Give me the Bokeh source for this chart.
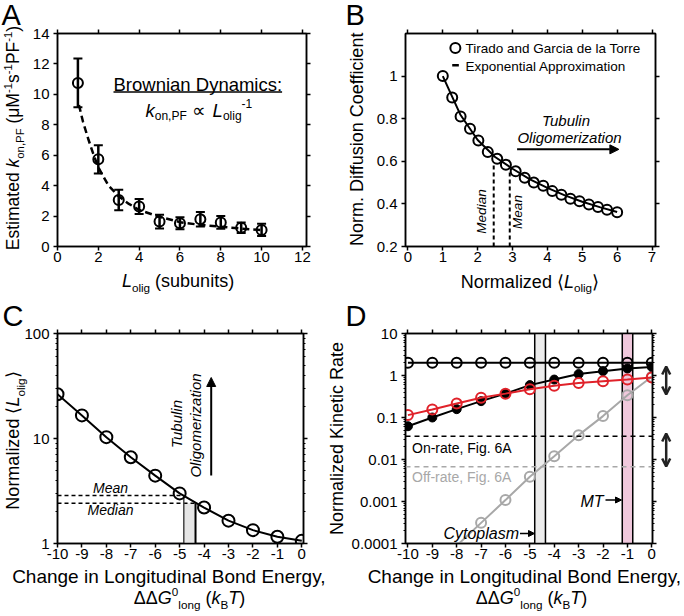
import math
from bokeh.plotting import figure
from bokeh.models import (Range1d, LinearAxis, LogAxis, Label, Arrow, NormalHead, OpenHead,
                          TeeHead, Whisker, ColumnDataSource, SingleIntervalTicker,
                          CustomJSTickFormatter, LogTicker, Span, GridBox)
from bokeh.layouts import row, column
from bokeh.embed import file_html
from bokeh.resources import INLINE

FONT = "Liberation Sans"

# ---------------- data ----------------
# Panel A
a_lolig = [1, 2, 3, 4, 5, 6, 7, 8, 9, 10]
a_kon = [10.75, 5.73, 3.06, 2.63, 1.64, 1.53, 1.79, 1.58, 1.23, 1.09]
a_err = [1.6, 0.93, 0.67, 0.5, 0.45, 0.4, 0.47, 0.42, 0.35, 0.4]
a_fit_x = [1.05, 1.25, 1.5, 1.75, 2.0, 2.5, 3.0, 3.5, 4.0, 5.0, 6.0, 7.0, 8.0, 9.0, 10.0]
a_fit_y = [9.3, 8.2, 7.1, 6.1, 5.2, 4.0, 3.3, 2.8, 2.4, 1.95, 1.6, 1.42, 1.3, 1.18, 1.08]

# Panel B
b_x = [1.00, 1.27, 1.51, 1.78, 2.02, 2.29, 2.56, 2.81, 3.09, 3.35,
       3.61, 3.88, 4.14, 4.40, 4.66, 4.92, 5.19, 5.45, 5.71, 6.00]
b_y = [1.0, 0.90, 0.81, 0.753, 0.698, 0.644, 0.612, 0.584, 0.553, 0.523,
       0.50, 0.485, 0.46, 0.443, 0.424, 0.412, 0.397, 0.385, 0.372, 0.361]
b_fit_x = [1.0, 1.5, 2.0, 2.5, 3.0, 3.5, 4.0, 4.5, 5.0, 5.5, 6.0]
b_fit_y = [1.0, 0.82, 0.70, 0.62, 0.565, 0.515, 0.475, 0.44, 0.41, 0.385, 0.362]
b_stats_x = [2.46, 2.92]        # median, mean
b_stats_top = [0.589, 0.549]

# Panel C
c_dg = [-10, -9, -8, -7, -6, -5, -4, -3, -2, -1, 0]
c_lolig = [26.4, 16.6, 10.3, 6.63, 4.43, 3.0, 2.2, 1.65, 1.34, 1.16, 1.06]
c_mean, c_median = 2.87, 2.42
c_band = [-4.83, -4.35]

# Panel D
d_dg = [-10, -9, -8, -7, -6, -5, -4, -3, -2, -1, 0]
d_black_open = [2.0, 2.0, 2.0, 2.0, 2.0, 2.0, 2.0, 2.0, 2.0, 2.0, 2.0]
d_black_filled = [0.062, 0.10, 0.158, 0.245, 0.37, 0.59, 0.80, 1.08, 1.27, 1.47, 1.6]
d_red = [0.114, 0.155, 0.215, 0.295, 0.37, 0.47, 0.57, 0.66, 0.73, 0.80, 0.90]
d_gray_x = [-8, -7, -6, -5, -4, -3, -2, -1, 0]
d_gray = [0.000089, 0.00031, 0.00108, 0.0039, 0.012, 0.038, 0.108, 0.34, 0.93]
d_on_rate, d_off_rate = 0.036, 0.0067
d_cyto_band = [-4.80, -4.36]
d_mt_band = [-1.21, -0.78]

RED = "#e0222a"
GRAY = "#a8a8a8"

# ---------------- text helpers (overlay in page pixels, y down) ----------------
W = {' ': 278, '(': 333, ')': 333, ',': 278, '-': 333, '.': 278, ':': 278,
     'A': 667, 'B': 667, 'C': 722, 'D': 722, 'E': 667, 'F': 611, 'G': 778, 'H': 722,
     'I': 278, 'K': 667, 'L': 556, 'M': 833, 'N': 722, 'O': 778, 'P': 667, 'R': 722,
     'S': 667, 'T': 611,
     'a': 556, 'b': 556, 'c': 500, 'd': 556, 'e': 556, 'f': 278, 'g': 556, 'h': 556,
     'i': 222, 'j': 222, 'k': 500, 'l': 222, 'm': 833, 'n': 556, 'o': 556, 'p': 556,
     'q': 556, 'r': 333, 's': 500, 't': 278, 'u': 556, 'v': 500, 'w': 722, 'x': 500,
     'y': 500, 'z': 500, 'μ': 576, 'Δ': 668, '⟨': 390, '⟩': 390, '∝': 838}
BASE_FIX = 0.28       # horizontal text: rendered baseline sits this many ems low
BASE_FIX_ROT = 0.56   # rotated text: rendered baseline sits this many ems to the right


def tw(s, size):
    return sum(W.get(c, 556) for c in s) * size / 1000.0


ov = figure(width=684, height=616, x_range=Range1d(0, 684), y_range=Range1d(616, 0),
            x_axis_location=None, y_axis_location=None, output_backend="svg",
            toolbar_location=None, min_border_left=0, min_border_right=0,
            min_border_top=0, min_border_bottom=0)
ov.outline_line_color = None
ov.background_fill_alpha = 0
ov.border_fill_alpha = 0
ov.xgrid.visible = False
ov.ygrid.visible = False


def rich(pieces, x, y, size, angle=0.0, align="center", color="black"):
    """Lay out text pieces at page pixel (x, y) = baseline anchor."""
    items = []
    for t, k in pieces:
        s = size * 0.65 if k in ("sub", "sup") else size
        items.append((t, k, s, tw(t, s)))
    total = sum(it[3] for it in items)
    pos = {"left": 0.0, "center": -total / 2.0, "right": -total}[align]
    for t, k, s, w in items:
        off = -0.22 * size if k == "sub" else (0.45 * size if k == "sup" else 0.0)
        off += (BASE_FIX_ROT if angle else BASE_FIX) * s
        stripped = t.lstrip()
        lead = tw(t[:len(t) - len(stripped)], s)
        stripped = stripped.rstrip()
        if stripped:
            if angle:
                lx, ly = x - off, y - (pos + lead)
            else:
                lx, ly = x + pos + lead, y - off
            ov.add_layout(Label(x=lx, y=ly, text=stripped, angle=angle, text_font=FONT,
                                text_font_size=f"{s:.1f}px",
                                text_font_style="italic" if k == "i" else "normal",
                                text_color=color, text_align="left",
                                text_baseline="alphabetic"))
        pos += w


def ov_arrow(x0, y0, x1, y1, size=8, width=2.0, both=False, open_head=False):
    def head():
        if open_head:
            return OpenHead(size=size, line_width=width, line_color="#222222")
        return NormalHead(size=size, fill_color="black", line_color="black", line_width=1)
    ov.add_layout(Arrow(x_start=x0, y_start=y0, x_end=x1, y_end=y1, line_width=width,
                        line_color="#222222" if open_head else "black",
                        start=head() if both else None, end=head()))


# ---------------- axes helpers ----------------
EMPTY = "return '';"


def style_axis(ax, labels=True, minor=False, standoff=4):
    ax.axis_line_width = 1.5
    ax.axis_line_color = "black"
    ax.major_tick_line_width = 1.5
    ax.major_tick_line_color = "black"
    ax.major_tick_out = 4
    ax.major_tick_in = 0
    ax.minor_tick_out = 2 if minor else 0
    ax.minor_tick_in = 0
    ax.minor_tick_line_width = 1
    ax.minor_tick_line_color = "black" if minor else None
    ax.major_label_text_font = FONT
    ax.major_label_text_color = "black"
    ax.major_label_text_font_size = "15px"
    ax.major_label_standoff = standoff if labels else 0
    if not labels:
        ax.formatter = CustomJSTickFormatter(code=EMPTY)


def make_fig(w, h, xr, yr, left, right, top, bottom, ylog=False):
    p = figure(width=w, height=h, x_range=xr, y_range=yr,
               y_axis_type="log" if ylog else "linear",
               output_backend="svg", toolbar_location=None,
               min_border_left=left, min_border_right=right,
               min_border_top=top, min_border_bottom=bottom)
    p.xgrid.visible = False
    p.ygrid.visible = False
    p.outline_line_color = "black"
    p.outline_line_width = 1.5
    p.background_fill_color = "white"
    p.border_fill_color = "white"
    return p


def add_axes(p, xint, yint=None, ylog=False, xformatter=None, yformatter=None):
    p.xaxis.ticker = SingleIntervalTicker(interval=xint, num_minor_ticks=0)
    style_axis(p.xaxis[0], standoff=1)
    if xformatter is not None:
        p.xaxis[0].formatter = xformatter
    top = LinearAxis(ticker=SingleIntervalTicker(interval=xint, num_minor_ticks=0))
    style_axis(top, labels=False)
    p.add_layout(top, "above")
    if ylog:
        p.yaxis.ticker = LogTicker(num_minor_ticks=10)
        style_axis(p.yaxis[0], minor=True)
        right = LogAxis(ticker=LogTicker(num_minor_ticks=10))
        style_axis(right, labels=False, minor=True)
    else:
        p.yaxis.ticker = SingleIntervalTicker(interval=yint, num_minor_ticks=0)
        style_axis(p.yaxis[0])
        right = LinearAxis(ticker=SingleIntervalTicker(interval=yint, num_minor_ticks=0))
        style_axis(right, labels=False)
    if yformatter is not None:
        p.yaxis[0].formatter = yformatter
    p.add_layout(right, "right")


PI2 = math.pi / 2
PLAIN = CustomJSTickFormatter(code="return tick.toString();")

# ---------------- Panel A ----------------
pA = make_fig(342, 300, Range1d(0, 12.2), Range1d(0, 14), 57, 36, 33, 53)
add_axes(pA, 2, 2)
pA.line(a_fit_x, a_fit_y, line_dash="7 4", line_width=2.5, line_color="black")
srcA = ColumnDataSource(dict(x=a_lolig,
                             upper=[v + e for v, e in zip(a_kon, a_err)],
                             lower=[v - e for v, e in zip(a_kon, a_err)]))
pA.add_layout(Whisker(source=srcA, base="x", upper="upper", lower="lower",
                      line_width=2.5, line_color="black",
                      upper_head=TeeHead(size=9, line_width=2, line_color="black"),
                      lower_head=TeeHead(size=9, line_width=2, line_color="black")))
pA.scatter(a_lolig, a_kon, marker="circle", size=10, line_width=2,
           line_color="black", fill_color=None)

rich([("A", "n")], 1, 23, 29, align="left")
rich([("Estimated ", "n"), ("k", "i"), ("on,PF", "sub"), (" (μM", "n"), ("-1", "sup"),
      ("s", "n"), ("-1", "sup"), ("PF", "n"), ("-1", "sup"), (")", "n")],
     22, 137.5, 17.5, angle=PI2)
rich([("L", "i"), ("olig", "sub"), (" (subunits)", "n")], 177.5, 286, 18)
rich([("Brownian Dynamics:", "n")], 113, 89, 18.5, align="left")
ul_w = tw("Brownian Dynamics:", 18.5)
ov.line([113, 113 + ul_w], [91.5, 91.5], line_width=1.5, line_color="black")
rich([("k", "i"), ("on,PF", "sub"), (" ∝ ", "n"), ("L", "i"), ("olig", "sub"),
      ("-1", "sup")], 145, 115, 18.5, align="left")

# ---------------- Panel B ----------------
pB = make_fig(342, 300, Range1d(-0.07, 7.1), Range1d(0.2, 1.2), 63, 29, 33, 54)
add_axes(pB, 1, 0.2, yformatter=CustomJSTickFormatter(
    code="return String(Math.round(tick*10)/10);"))
pB.line(b_fit_x, b_fit_y, line_width=2, line_color="black")
pB.scatter(b_x, b_y, marker="circle", size=10, line_width=2, line_color="black",
           fill_color=None)
pB.segment(x0=b_stats_x, y0=[0.2, 0.2], x1=b_stats_x, y1=b_stats_top,
           line_dash="4 3", line_width=2, line_color="black")
pB.add_layout(Arrow(x_start=3.13, y_start=0.656, x_end=6.05, y_end=0.656, line_width=2,
                    line_color="black",
                    end=NormalHead(size=9, fill_color="black", line_color="black")))
# legend
pB.scatter([1.36], [1.132], marker="circle", size=10, line_width=2, line_color="black",
           fill_color=None)
pB.line([1.27, 1.46], [1.051, 1.051], line_width=2.5, line_color="black")

rich([("Tirado and Garcia de la Torre", "n")], 465, 52, 13.5, align="left")
rich([("Exponential Approximation", "n")], 465, 69.5, 13.5, align="left")
rich([("B", "n")], 345, 23, 29, align="left")
rich([("Norm. Diffusion Coefficient", "n")], 367, 138.5, 18, angle=PI2)
rich([("Normalized ", "n"), ("⟨", "n"), ("L", "i"), ("olig", "sub"), ("⟩", "n")],
     529.5, 286.5, 18)
rich([("Tubulin", "i")], 566, 124, 15)
rich([("Oligomerization", "i")], 569, 141.5, 15)
rich([("Median", "i")], 488.5, 211, 13.5, angle=PI2)
rich([("Mean", "i")], 524.5, 211.5, 13.5, angle=PI2)

# ---------------- Panel C ----------------
pC = make_fig(342, 316, Range1d(-10, 0.07), Range1d(1, 100), 57, 39, 33, 73, ylog=True)
add_axes(pC, 1, ylog=True, xformatter=PLAIN,
         yformatter=CustomJSTickFormatter(code="return String(Math.round(tick));"))
pC.quad(left=[c_band[0]], right=[c_band[1]], bottom=[1], top=[c_median],
        fill_color="#e6e6e6", line_color=None)
pC.segment(x0=[-10, -10], y0=[c_mean, c_median], x1=c_band, y1=[c_mean, c_median],
           line_dash="4 3", line_width=1.5, line_color="black")
pC.segment(x0=c_band, y0=[1, 1], x1=c_band, y1=[c_mean, c_median],
           line_width=[1.5, 2], line_color=["#444444", "black"])
pC.line(c_dg, c_lolig, line_width=2, line_color="black")
pC.scatter(c_dg, c_lolig, marker="circle", size=12, line_width=2, line_color="black",
           fill_color=None)

rich([("C", "n")], 2, 323.5, 29, align="left")
rich([("Normalized ", "n"), ("⟨", "n"), ("L", "i"), ("olig", "sub"), ("⟩", "n")],
     23, 440, 18, angle=PI2)
rich([("Change in Longitudinal Bond Energy,", "n")], 169, 581.5, 19)
rich([("ΔΔ", "n"), ("G", "i"), ("0", "sup"), ("long", "sub"), (" (", "n"), ("k", "i"),
      ("B", "sub"), ("T", "i"), (")", "n")], 189, 603, 18)
rich([("Mean", "i")], 110, 491, 14)
rich([("Median", "i")], 110, 513, 14)
rich([("Tubulin", "i")], 184, 423, 15, angle=PI2)
rich([("Oligomerization", "i")], 203.5, 425, 15, angle=PI2)
ov_arrow(210.7, 475, 210.7, 377, size=9, width=2)

# ---------------- Panel D ----------------
pD = make_fig(342, 316, Range1d(-10.1, 0.03), Range1d(1e-4, 10), 63, 32, 33, 73, ylog=True)
add_axes(pD, 1, ylog=True, xformatter=PLAIN, yformatter=CustomJSTickFormatter(
    code="if (tick >= 1) return String(Math.round(tick));"
         "return tick.toFixed(Math.round(-Math.log10(tick)));"))
pD.quad(left=[d_cyto_band[0], d_mt_band[0]], right=[d_cyto_band[1], d_mt_band[1]],
        bottom=[1e-4, 1e-4], top=[10, 10], fill_color=["#ececec", "#f0c8dc"],
        line_color=None)
band_edges = d_cyto_band + d_mt_band
pD.segment(x0=band_edges, y0=[1e-4] * 4, x1=band_edges, y1=[10] * 4,
           line_width=1.5, line_color="black")
pD.add_layout(Span(location=d_on_rate, dimension="width", line_dash="5 4",
                   line_width=1.5, line_color="black"))
pD.add_layout(Span(location=d_off_rate, dimension="width", line_dash="5 4",
                   line_width=1.5, line_color=GRAY))
pD.line(d_gray_x, d_gray, line_width=2, line_color=GRAY)
pD.scatter(d_gray_x[1:], d_gray[1:], marker="circle", size=10, line_width=2,
           line_color=GRAY, fill_color=None)
pD.line(d_dg, d_black_filled, line_width=2, line_color="black")
pD.scatter(d_dg, d_black_filled, marker="circle", size=9, line_width=1,
           line_color="black", fill_color="black")
pD.line(d_dg, d_red, line_width=2, line_color=RED)
pD.scatter(d_dg, d_red, marker="circle", size=10, line_width=2, line_color=RED,
           fill_color=None)
pD.line(d_dg, d_black_open, line_width=2, line_color="black")
pD.scatter(d_dg, d_black_open, marker="circle", size=10, line_width=2,
           line_color="black", fill_color=None)

rich([("D", "n")], 345, 323.5, 29, align="left")
rich([("Normalized Kinetic Rate", "n")], 347, 438, 18, angle=PI2)
rich([("Change in Longitudinal Bond Energy,", "n")], 524.5, 581.5, 19)
rich([("ΔΔ", "n"), ("G", "i"), ("0", "sup"), ("long", "sub"), (" (", "n"), ("k", "i"),
      ("B", "sub"), ("T", "i"), (")", "n")], 531, 603, 18)
rich([("On-rate, Fig. 6A", "n")], 411.5, 451.5, 14, align="left")
rich([("Off-rate, Fig. 6A", "n")], 411.5, 480, 14, align="left", color=GRAY)
rich([("Cytoplasm", "i")], 518.5, 537, 16, align="right")
rich([("MT", "i")], 603, 505, 16, align="right")
ov_arrow(519.5, 533, 534, 533, size=6, width=1.5)
ov_arrow(605, 499.5, 621, 499.5, size=6, width=1.5)
# range arrows to the right of panel D
ov_arrow(665.7, 394, 665.7, 366, size=8, width=2.5, both=True, open_head=True)
ov_arrow(665.7, 466, 665.7, 433, size=8, width=2.5, both=True, open_head=True)

panels = column(row(pA, pB), row(pC, pD))
layout = GridBox(children=[(panels, 0, 0), (ov, 0, 0)])
open("out.html", "w").write(file_html(layout, INLINE))
